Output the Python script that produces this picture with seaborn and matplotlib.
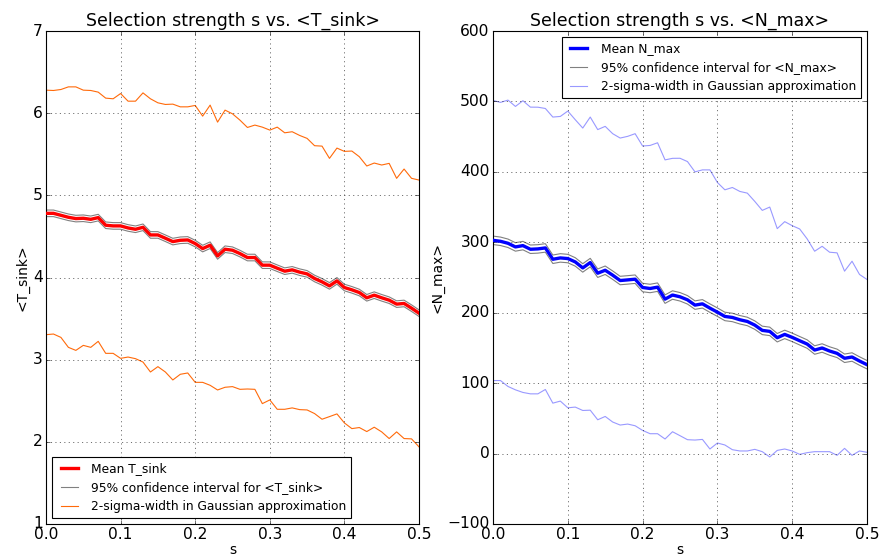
import numpy as np
import pandas as pd
import matplotlib
matplotlib.use("Agg")
import matplotlib.pyplot as plt
import seaborn as sns

plt.style.use("classic")

s_values = [round(0.01 * i, 2) for i in range(51)]

t_mean = [4.781, 4.781, 4.757, 4.733, 4.717, 4.721, 4.708, 4.729, 4.636, 4.628,
          4.628, 4.603, 4.587, 4.611, 4.518, 4.518, 4.478, 4.437, 4.453, 4.457,
          4.413, 4.352, 4.393, 4.263, 4.344, 4.332, 4.291, 4.243, 4.243, 4.150,
          4.150, 4.113, 4.077, 4.093, 4.065, 4.044, 3.988, 3.947, 3.898, 3.959,
          3.878, 3.850, 3.817, 3.753, 3.785, 3.753, 3.724, 3.676, 3.684, 3.627,
          3.566]
t_ci_half = 0.04
t_upper = [6.280, 6.276, 6.288, 6.320, 6.320, 6.280, 6.276, 6.256, 6.183, 6.175,
           6.239, 6.146, 6.146, 6.247, 6.175, 6.126, 6.106, 6.110, 6.077, 6.077,
           6.094, 5.964, 6.098, 5.891, 6.037, 5.992, 5.915, 5.826, 5.855, 5.830,
           5.794, 5.830, 5.761, 5.774, 5.729, 5.693, 5.604, 5.599, 5.450, 5.575,
           5.535, 5.539, 5.470, 5.357, 5.393, 5.369, 5.389, 5.207, 5.320, 5.207,
           5.186]
t_lower = [3.304, 3.312, 3.271, 3.150, 3.113, 3.174, 3.150, 3.223, 3.077, 3.077,
           3.016, 3.032, 3.012, 2.971, 2.850, 2.915, 2.850, 2.753, 2.822, 2.838,
           2.724, 2.724, 2.688, 2.631, 2.664, 2.672, 2.639, 2.643, 2.639, 2.465,
           2.510, 2.396, 2.396, 2.413, 2.392, 2.388, 2.344, 2.275, 2.307, 2.340,
           2.230, 2.161, 2.174, 2.125, 2.178, 2.121, 2.040, 2.121, 2.040, 2.036,
           1.939]

n_mean = [302.8, 301.4, 298.6, 293.4, 295.3, 290.1, 290.6, 292.0, 275.9, 277.8,
          276.9, 272.1, 263.6, 271.2, 256.1, 260.3, 253.3, 245.7, 246.6, 247.6,
          235.8, 234.4, 236.3, 219.3, 225.1, 222.6, 218.3, 210.8, 212.6, 206.5,
          200.8, 194.7, 193.3, 190.0, 187.6, 182.4, 174.9, 173.5, 164.5, 169.2,
          165.0, 160.2, 155.5, 147.0, 149.9, 145.6, 142.3, 135.3, 137.1, 131.4,
          126.2]
n_ci_half = 6.0
n_upper = [501.4, 498.6, 501.9, 492.9, 501.0, 491.9, 491.8, 490.0, 477.8, 478.7,
           486.3, 474.0, 462.2, 477.8, 460.0, 464.6, 454.2, 448.0, 450.4, 454.2,
           436.7, 437.5, 441.3, 417.0, 419.2, 419.3, 414.6, 400.0, 402.8, 402.8,
           384.9, 374.5, 377.8, 372.2, 369.8, 358.0, 345.3, 350.0, 319.4, 329.3,
           323.6, 318.9, 304.8, 287.3, 294.3, 285.9, 285.0, 259.0, 273.1, 254.3,
           247.2]
n_lower = [103.7, 103.7, 95.3, 90.5, 86.8, 84.8, 84.8, 91.0, 71.6, 74.5,
           65.0, 66.0, 61.2, 61.6, 48.0, 52.7, 44.8, 40.5, 41.9, 39.5,
           32.9, 28.2, 28.2, 20.7, 31.0, 25.4, 19.7, 19.2, 20.1, 6.5,
           15.0, 12.2, 5.5, 3.7, 3.7, 6.0, 2.7, -4.8, 4.5, 6.5,
           3.7, -1.1, 1.3, 2.7, 2.7, 2.7, -2.5, 7.4, -2.5, 3.7,
           1.8]

df = pd.DataFrame({
    "s": s_values,
    "t_mean": t_mean, "t_upper": t_upper, "t_lower": t_lower,
    "n_mean": n_mean, "n_upper": n_upper, "n_lower": n_lower,
})
df["t_ci_hi"] = df["t_mean"] + t_ci_half
df["t_ci_lo"] = df["t_mean"] - t_ci_half
df["n_ci_hi"] = df["n_mean"] + n_ci_half
df["n_ci_lo"] = df["n_mean"] - n_ci_half

fig = plt.figure(figsize=(879 / 80, 558 / 80), dpi=80, facecolor="white")
ax1 = fig.add_axes([46 / 879, 1 - 524 / 558, 373 / 879, 493 / 558])
ax2 = fig.add_axes([493 / 879, 1 - 524 / 558, 374 / 879, 493 / 558])

orange = "#ff6a0a"
lightblue = "#9999ff"

TICK_FS = 14
TITLE_FS = 15.7
LABEL_FS = 12.5
LEGEND_FS = 11

def style_axes(ax, title, ylabel, xlim, ylim):
    ax.set_xlim(*xlim)
    ax.set_ylim(*ylim)
    ax.set_title(title, fontsize=TITLE_FS, pad=5)
    ax.set_xlabel("s", fontsize=LABEL_FS, labelpad=1)
    ax.set_ylabel(ylabel, fontsize=LABEL_FS, labelpad=3)
    ax.tick_params(labelsize=TICK_FS, pad=3)
    ax.grid(True)

# Left panel
sns.lineplot(data=df, x="s", y="t_mean", ax=ax1, color="red", lw=3, label="Mean T_sink", zorder=3)
sns.lineplot(data=df, x="s", y="t_ci_hi", ax=ax1, color="gray", lw=1, label="95% confidence interval for <T_sink>", zorder=2)
sns.lineplot(data=df, x="s", y="t_ci_lo", ax=ax1, color="gray", lw=1, zorder=2)
sns.lineplot(data=df, x="s", y="t_upper", ax=ax1, color=orange, lw=1, label="2-sigma-width in Gaussian approximation")
sns.lineplot(data=df, x="s", y="t_lower", ax=ax1, color=orange, lw=1)
style_axes(ax1, "Selection strength s vs. <T_sink>", "<T_sink>", (0, 0.5), (1, 7))
ax1.legend(loc="lower left", fontsize=LEGEND_FS, fancybox=False, framealpha=1)

# Right panel
sns.lineplot(data=df, x="s", y="n_mean", ax=ax2, color="blue", lw=3, label="Mean N_max", zorder=3)
sns.lineplot(data=df, x="s", y="n_ci_hi", ax=ax2, color="gray", lw=1, label="95% confidence interval for <N_max>", zorder=2)
sns.lineplot(data=df, x="s", y="n_ci_lo", ax=ax2, color="gray", lw=1, zorder=2)
sns.lineplot(data=df, x="s", y="n_upper", ax=ax2, color=lightblue, lw=1, label="2-sigma-width in Gaussian approximation")
sns.lineplot(data=df, x="s", y="n_lower", ax=ax2, color=lightblue, lw=1)
style_axes(ax2, "Selection strength s vs. <N_max>", "<N_max>", (0, 0.5), (-100, 600))
ax2.legend(loc="upper right", fontsize=LEGEND_FS, fancybox=False, framealpha=1)

fig.savefig("out.png", dpi=80, facecolor="white")
